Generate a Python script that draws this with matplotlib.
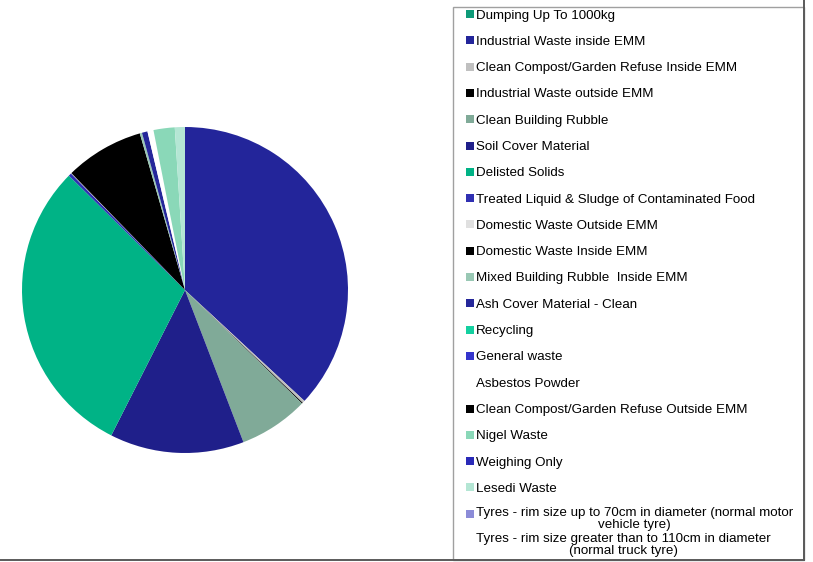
import matplotlib
matplotlib.use("Agg")
import matplotlib.pyplot as plt
from matplotlib.patches import Rectangle
from matplotlib.lines import Line2D

plt.rcParams['font.family'] = ['Liberation Sans', 'DejaVu Sans']

categories = [
    "Dumping Up To 1000kg",
    "Industrial Waste inside EMM",
    "Clean Compost/Garden Refuse Inside EMM",
    "Industrial Waste outside EMM",
    "Clean Building Rubble",
    "Soil Cover Material",
    "Delisted Solids",
    "Treated Liquid & Sludge of Contaminated Food",
    "Domestic Waste Outside EMM",
    "Domestic Waste Inside EMM",
    "Mixed Building Rubble  Inside EMM",
    "Ash Cover Material - Clean",
    "Recycling",
    "General waste",
    "Asbestos Powder",
    "Clean Compost/Garden Refuse Outside EMM",
    "Nigel Waste",
    "Weighing Only",
    "Lesedi Waste",
    "Tyres - rim size up to 70cm in diameter (normal motor\nvehicle tyre)",
    "Tyres - rim size greater than to 110cm in diameter\n(normal truck tyre)",
]

shares = [0.0, 36.9, 0.25, 0.1, 6.9, 13.3, 29.9, 0.3, 0.05, 7.8,
          0.22, 0.55, 0.0, 0.0, 0.6, 0.0, 2.1, 0.0, 1.0, 0.0, 0.0]

colors = ["#0e9a78", "#23259a", "#c0c0c0", "#000000", "#80aa98",
          "#1f1f8a", "#00b386", "#3030b2", "#e0e0e0", "#000000",
          "#99c8b4", "#25279a", "#14d0a0", "#3434cc", "#ffffff",
          "#000000", "#8ad8b8", "#2a2ab8", "#b4e6d4", "#8c8cd8", "#ffffff"]

has_marker = [c.lower() != "#ffffff" for c in colors]

W, H = 813, 562
fig = plt.figure(figsize=(W / 100, H / 100), dpi=100)

def fx(px):
    return px / W

def fy(py):
    return 1 - py / H

# pie axes
cx, cy, r = 185, 290, 163
ax = fig.add_axes([fx(cx - r), fy(cy + r), 2 * r / W, 2 * r / H])
ax.pie(shares, colors=colors, startangle=90, counterclock=False,
       wedgeprops=dict(linewidth=0))
ax.set_xlim(-1, 1)
ax.set_ylim(-1, 1)
ax.set_aspect('auto')
ax.axis('off')

# legend box
fig.patches.append(Rectangle((fx(453), fy(560)), fx(804) - fx(453), fy(7) - fy(560),
                             transform=fig.transFigure, fill=False,
                             edgecolor="#a0a0a0", linewidth=1.0))
# outer chart border (right and bottom)
fig.lines.append(Line2D([fx(804), fx(804)], [fy(560), 1.01], transform=fig.transFigure,
                        color="#5a5a5a", linewidth=1.4))
fig.lines.append(Line2D([0, fx(804)], [fy(560), fy(560)], transform=fig.transFigure,
                        color="#5a5a5a", linewidth=1.4))

# legend entries
y0, step = 14, 26.3
for i, (lab, col, mk) in enumerate(zip(categories, colors, has_marker)):
    yc = y0 + step * i
    if mk:
        fig.patches.append(Rectangle((fx(466), fy(yc + 4)), 8 / W, 8 / H,
                                     transform=fig.transFigure, facecolor=col,
                                     edgecolor="none"))
    if "\n" in lab:
        fig.text(fx(476), fy(yc - 7), lab, fontsize=9.6, ha="left", va="top",
                 multialignment="center", linespacing=0.98,
                 transform=fig.transFigure)
    else:
        fig.text(fx(476), fy(yc + 4.5), lab, fontsize=9.6, ha="left", va="baseline",
                 transform=fig.transFigure)

fig.savefig("out.png", dpi=100)
